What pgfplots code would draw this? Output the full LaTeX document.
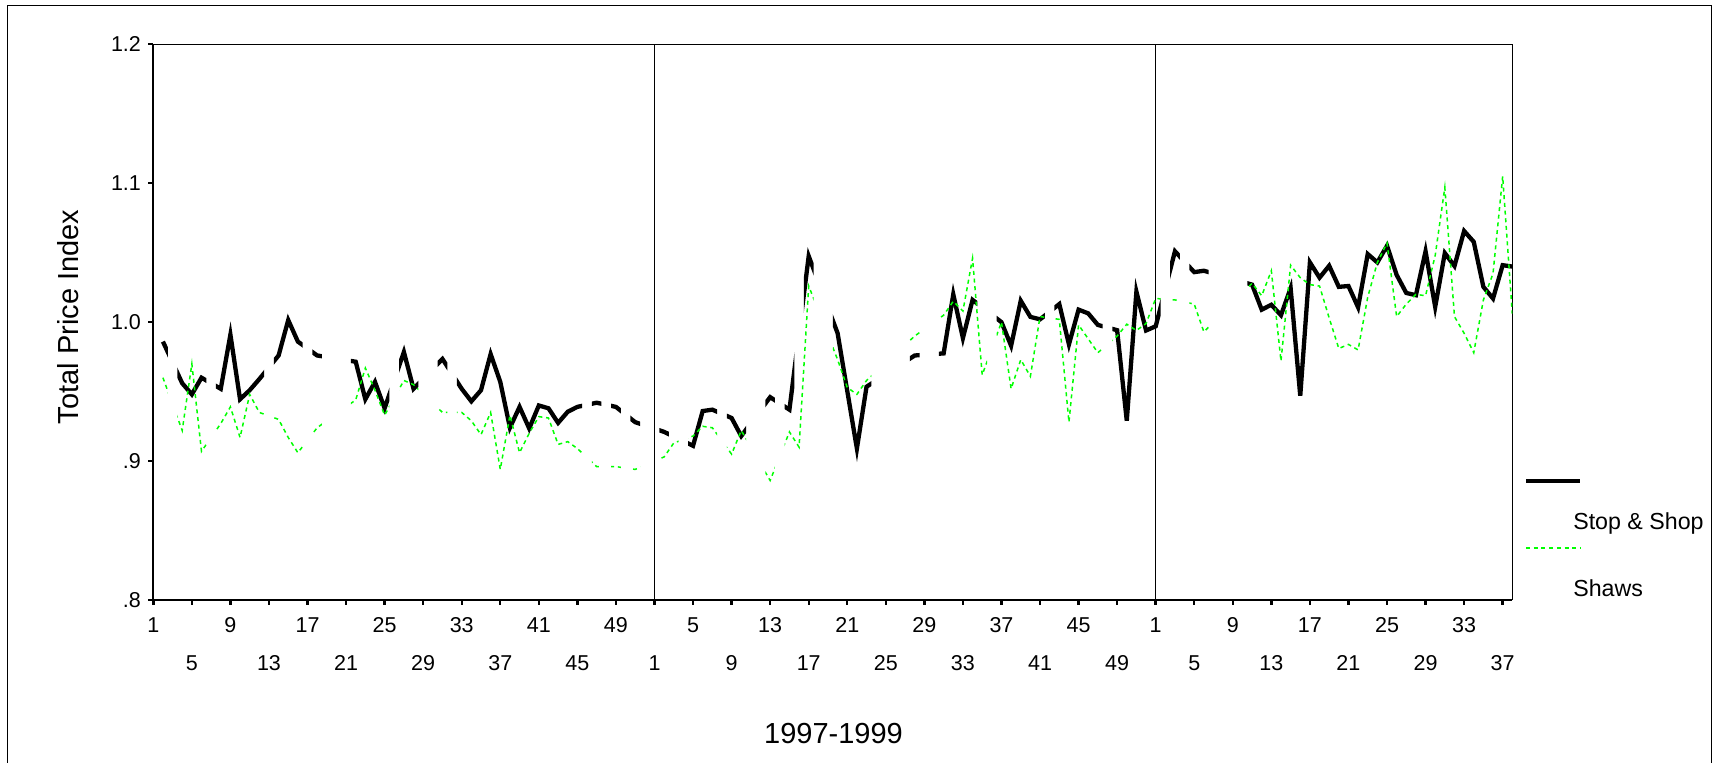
\documentclass[border=0pt]{standalone}
\usepackage{fontspec}
\setmainfont{Liberation Sans}
\usepackage{pgfplots}
\usepackage{pgfplotstable}
\pgfplotsset{compat=1.18}
\definecolor{shawgreen}{RGB}{0,255,0}

% Stop & Shop weekly total price index (p = running week: 1-52 = 1997, 53-104 = 1998, 105-142 = 1999); missing weeks omitted
\pgfplotstableread{
p v
2 0.986
4 0.956
5 0.948
6 0.960
8 0.952
9 0.991
10 0.9445
11 0.951
12 0.959
14 0.976
15 1.0015
16 0.986
18 0.976
22 0.9715
23 0.9445
24 0.957
25 0.938
27 0.9785
28 0.952
31 0.9735
33 0.952
34 0.943
35 0.951
36 0.977
37 0.957
38 0.924
39 0.939
40 0.9235
41 0.940
42 0.938
43 0.9275
44 0.9355
45 0.939
47 0.942
49 0.939
51 0.928
54 0.921
57 0.911
58 0.936
59 0.937
61 0.931
62 0.918
65 0.946
67 0.937
69 1.0475
72 0.992
73 0.9505
74 0.909
75 0.9535
80 0.976
83 0.9775
84 1.020
85 0.9885
86 1.016
89 1.000
90 0.983
91 1.0154
92 1.0038
93 1.002
95 1.013
96 0.984
97 1.009
98 1.0063
99 0.998
101 0.9942
102 0.929
103 1.022
104 0.994
105 0.997
107 1.051
109 1.036
110 1.037
115 1.027
116 1.009
117 1.0125
118 1.005
119 1.0245
120 0.947
121 1.043
122 1.032
123 1.0406
124 1.0254
125 1.026
126 1.0107
127 1.049
128 1.043
129 1.055
130 1.034
131 1.021
132 1.0194
133 1.051
134 1.011
135 1.0497
136 1.0404
137 1.0656
138 1.0578
139 1.0254
140 1.017
141 1.041
142 1.040
}\stopshop

% Shaws
\pgfplotstableread{
p v
2 0.960
4 0.922
5 0.970
6 0.907
8 0.927
9 0.939
10 0.917
11 0.948
12 0.935
14 0.930
15 0.917
16 0.906
18 0.924
22 0.944
23 0.967
24 0.951
25 0.933
27 0.958
28 0.955
31 0.935
33 0.935
34 0.929
35 0.919
36 0.935
37 0.894
38 0.933
39 0.906
40 0.920
41 0.932
42 0.931
43 0.912
44 0.914
45 0.909
47 0.896
49 0.896
51 0.894
54 0.903
55 0.913
57 0.918
58 0.925
59 0.924
61 0.905
62 0.922
65 0.886
67 0.921
68 0.910
69 1.026
72 0.973
73 0.953
74 0.948
75 0.958
80 0.990
83 1.005
84 1.015
85 1.008
86 1.046
87 0.962
89 1.000
90 0.952
91 0.973
92 0.961
93 1.004
95 1.002
96 0.928
97 0.998
98 0.988
99 0.978
101 0.990
102 0.9985
103 0.994
104 0.999
105 1.017
107 1.016
109 1.013
110 0.993
115 1.028
116 1.019
117 1.037
118 0.972
119 1.041
120 1.032
121 1.027
122 1.026
123 1.003
124 0.981
125 0.984
126 0.980
127 1.018
128 1.043
129 1.057
130 1.004
131 1.013
132 1.020
133 1.019
134 1.048
135 1.097
136 1.004
137 0.992
138 0.978
139 1.016
140 1.035
141 1.105
142 1.006
}\shaws

% a week that is present is shown over [week-0.5, week+0.5]
\newcommand\wk[2]{(axis cs:#1,0.7) rectangle (axis cs:#2,1.3)}

\begin{document}
\begin{tikzpicture}
\begin{axis}[
  scale only axis, width=679.5pt, height=277.85pt,
  xmin=1, xmax=142, ymin=0.8, ymax=1.2,
  axis line style={line width=0.5pt},
  tick align=outside, tick pos=left, major tick length=2.5pt,
  every tick/.style={black, line width=1.2pt},
  /pgf/number format/assume math mode=true,
  xtick={1,9,...,137},
  xticklabels={1,9,17,25,33,41,49,5,13,21,29,37,45,1,9,17,25,33},
  extra x ticks={5,13,...,141},
  extra x tick labels={5,13,21,29,37,45,1,9,17,25,33,41,49,5,13,21,29,37},
  extra x tick style={xticklabel style={yshift=-19.2pt}},
  xticklabel style={font=\fontsize{10.75}{12}\selectfont, anchor=base, inner sep=0pt, yshift=-13.65pt},
  minor xtick={53,105}, xminorgrids=true, minor tick length=0pt,
  minor grid style={black, line width=0.5pt, solid},
  ytick={0.8,0.9,1.0,1.1,1.2},
  yticklabels={.8,.9,1.0,1.1,1.2},
  yticklabel style={font=\fontsize{10.75}{12}\selectfont, anchor=east, inner sep=0pt, xshift=-3.5pt},
  xlabel={1997-1999},
  ylabel={Total Price Index},
  xlabel style={font=\fontsize{14.5}{16}\selectfont, at={(axis description cs:0.5005,-0.2411)}, anchor=center, inner sep=0pt},
  ylabel style={font=\fontsize{14.5}{16}\selectfont, at={(axis description cs:-0.0628,0.5093)}, anchor=center, inner sep=0pt},
  legend entries={Stop \& Shop, Shaws},
  legend image code/.code={\draw[#1,overlay] (-23.65pt,24.35pt) -- (3.35pt,24.35pt); \path[draw=none,fill=none] (0pt,0pt) -- (0pt,0.1pt);},
  legend style={at={(1,0)}, anchor=south west, xshift=30.5pt, yshift=-0.35pt,
    draw=none, fill=none, inner sep=0pt, outer sep=0pt, column sep=0pt, row sep=23.35pt,
    cells={anchor=base west},
    nodes={inner sep=0pt, text height=8pt, text depth=2pt, font=\fontsize{11.6}{13}\selectfont}},
]
\begin{scope}
\clip \wk{1.5}{2.5} \wk{3.5}{6.5} \wk{7.5}{12.5} \wk{13.5}{16.5} \wk{17.5}{18.5}
      \wk{21.5}{25.5} \wk{26.5}{28.5} \wk{30.5}{31.5} \wk{32.5}{45.5} \wk{46.5}{47.5}
      \wk{48.5}{49.5} \wk{50.5}{51.5} \wk{53.5}{54.5} \wk{56.5}{59.5} \wk{60.5}{62.5}
      \wk{64.5}{65.5} \wk{66.5}{67.5} \wk{68.5}{69.5} \wk{71.5}{75.5} \wk{79.5}{80.5}
      \wk{82.5}{86.5} \wk{88.5}{93.5} \wk{94.5}{99.5} \wk{100.5}{105.5} \wk{106.5}{107.5}
      \wk{108.5}{110.5} \wk{114.5}{143};
\addplot[black, line width=2.15pt, line join=miter] table[x=p, y=v] {\stopshop};
\end{scope}
\begin{scope}
\clip \wk{1.5}{2.5} \wk{3.5}{6.5} \wk{7.5}{12.5} \wk{13.5}{16.5} \wk{17.5}{18.5}
      \wk{21.5}{25.5} \wk{26.5}{28.5} \wk{30.5}{31.5} \wk{32.5}{45.5} \wk{46.5}{47.5}
      \wk{48.5}{49.5} \wk{50.5}{51.5} \wk{53.5}{55.5} \wk{56.5}{59.5} \wk{60.5}{62.5}
      \wk{64.5}{65.5} \wk{66.5}{69.5} \wk{71.5}{75.5} \wk{79.5}{80.5}
      \wk{82.5}{87.5} \wk{88.5}{93.5} \wk{94.5}{99.5} \wk{100.5}{105.5} \wk{106.5}{107.5}
      \wk{108.5}{110.5} \wk{114.5}{143};
\addplot[shawgreen, line width=0.75pt, dash pattern=on 2pt off 1.85pt] table[x=p, y=v] {\shaws};
\end{scope}
\end{axis}
\draw[line width=1pt] (current axis.south west) -- (current axis.north west);
\draw[line width=0.7pt] (current axis.south west) -- (current axis.south east);
\draw[line width=0.5pt] (-72.8pt,-81.5pt) -- (-72.8pt,297.15pt) -- (779.25pt,297.15pt) -- (779.25pt,-81.5pt);
\pgfresetboundingbox
\path[use as bounding box] (-76.65pt,-81.5pt) rectangle (780.85pt,300pt);
\end{tikzpicture}
\end{document}
